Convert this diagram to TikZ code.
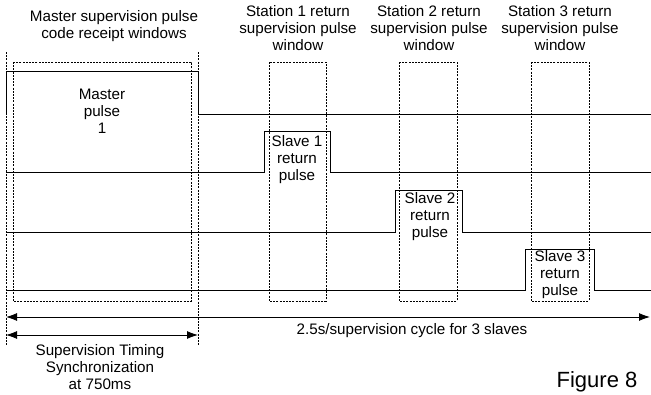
\documentclass[tikz,border=0pt]{standalone}
\usepackage{fontspec}
\setmainfont{Liberation Sans}
\usetikzlibrary{arrows.meta}

\tikzset{
    win/.style={dash pattern=on 2pt off 1.2pt, line width=0.6pt},
    sig/.style={line width=0.9pt},
    txt/.style={align=center, inner sep=0pt, font=\fontsize{15.2}{17}\selectfont},
    dim/.style={line width=0.9pt, {Latex[length=11pt,width=8pt]}-{Latex[length=11pt,width=8pt]}}
}

\begin{document}
\begin{tikzpicture}[x=1pt, y=-1pt]
    \useasboundingbox (0,0) rectangle (651,394);
    \coordinate (LT) at (6,52);
    \coordinate (LB) at (6,345);
    \coordinate (RT) at (198,52);
    \coordinate (RB) at (198,345);
    \draw[win] (LT) -- (LB);
    \draw[win] (RT) -- (RB);
    % receipt windows
    \draw[win] (13,62) rectangle (191,301);
    \draw[win] (269,62) rectangle (326,301);
    \draw[win] (399,62) rectangle (457,301);
    \draw[win] (531,62) rectangle (589,301);
    % signal lines
    \draw[sig] (6,115) -- (6,71) -- (198,71) -- (198,114) -- (651,114);
    \draw[sig] (6,172) -- (264,172) -- (264,131) -- (330,131) -- (330,172) -- (651,172);
    \draw[sig] (6,232) -- (395,232) -- (395,190) -- (462,190) -- (462,232) -- (651,232);
    \draw[sig] (6,290) -- (525,290) -- (525,249) -- (594,249) -- (594,290) -- (651,290);
    \node[txt] (master) at (102,111) {Master\\pulse\\1};
    \node[txt] (slaveA) at (297,160) {Slave 1\\return\\pulse};
    \node[txt] (slaveB) at (430,217) {Slave 2\\return\\pulse};
    \node[txt] (slaveC) at (560,275) {Slave 3\\return\\pulse};
    % window titles
    \node[txt] (mwin) at (114,26) {Master supervision pulse\\code receipt windows};
    \node[txt] (swinA) at (298,28) {Station 1 return\\supervision pulse\\window};
    \node[txt] (swinB) at (429,28) {Station 2 return\\supervision pulse\\window};
    \node[txt] (swinC) at (560,28) {Station 3 return\\supervision pulse\\window};
    % timing arrows
    \coordinate (cycS) at (6,317);
    \coordinate (cycE) at (650,317);
    \coordinate (synS) at (6,335);
    \coordinate (synE) at (198,335);
    \draw[dim] (cycS) -- (cycE);
    \draw[dim] (synS) -- (synE);
    \node[txt] (cycle) at (412,331) {2.5s/supervision cycle for 3 slaves};
    \node[txt] (sync) at (100,367) {Supervision Timing\\Synchronization\\at 750ms};
    \node[inner sep=0pt, font=\fontsize{22}{26}\selectfont] (fig) at (597,382) {Figure 8};
\end{tikzpicture}
\end{document}
